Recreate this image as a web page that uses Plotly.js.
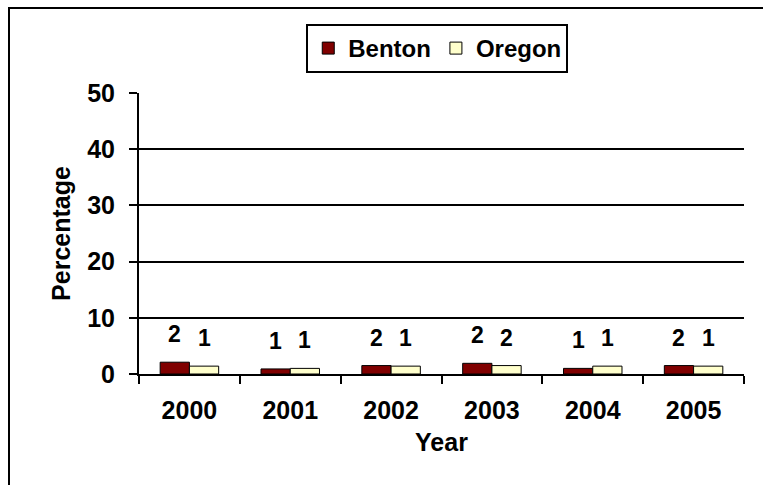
<!DOCTYPE html>
<html>
<head>
<meta charset="utf-8">
<script src="https://cdn.plot.ly/plotly-3.0.1.min.js"></script>
<style>
  html, body { margin: 0; padding: 0; background: #fff; }
  #chart { width: 763px; height: 485px; }
</style>
</head>
<body>
<div id="chart"></div>
<script>
const years = ['2000', '2001', '2002', '2003', '2004', '2005'];
const benton = [2.1, 0.9, 1.5, 1.9, 1.0, 1.5];
const oregon = [1.4, 1.0, 1.4, 1.5, 1.4, 1.4];
const yTicks = [0, 10, 20, 30, 40, 50];

const FONT = '"Liberation Sans", Arial, sans-serif';

const traces = [
  {
    type: 'bar', name: 'Benton', x: years, y: benton,
    marker: { color: '#800000', line: { color: '#000000', width: 1 } }
  },
  {
    type: 'bar', name: 'Oregon', x: years, y: oregon,
    marker: { color: '#FFFFCC', line: { color: '#000000', width: 1 } }
  }
];

const L = 139, R = 19, T = 93, B = 111;
const W = 763, H = 485;
const plotW = W - L - R, plotH = H - T - B;
const catW = plotW / years.length;
const bargap = 0.42;
const barW = catW * (1 - bargap) / 2;

const annotations = [];
[[benton, -barW / 2], [oregon, barW / 2]].forEach(([vals, dx]) => {
  vals.forEach((v, i) => {
    annotations.push({
      x: i, y: v, xref: 'x', yref: 'y',
      text: String(Math.round(v)), showarrow: false,
      xshift: dx, yshift: 13, yanchor: 'bottom',
      font: { family: FONT, size: 23, color: '#000' }
    });
  });
});

const px2x = p => (p - L) / plotW;
const py2y = p => (H - B - p) / plotH;

const layout = {
  width: W, height: H,
  margin: { l: L, r: R, t: T, b: B, pad: 0 },
  paper_bgcolor: '#ffffff', plot_bgcolor: '#ffffff',
  font: { family: FONT, size: 25, color: '#000', weight: 'bold' },
  barmode: 'group', bargap: bargap, bargroupgap: 0,
  showlegend: true,
  legend: {
    orientation: 'h', x: 0.493, xanchor: 'center', y: py2y(24), yanchor: 'top',
    bordercolor: '#000', borderwidth: 2, bgcolor: '#fff',
    font: { family: FONT, size: 24, color: '#000' },
    traceorder: 'normal'
  },
  xaxis: {
    type: 'category', tickson: 'boundaries', ticks: 'outside', ticklen: 8,
    tickwidth: 2, tickcolor: '#000', showline: true, linecolor: '#000', linewidth: 2,
    showgrid: false, fixedrange: true, tickangle: 0,
    tickfont: { family: FONT, size: 25, color: '#000' },
    ticklabelstandoff: 13,
    title: { text: 'Year', font: { family: FONT, size: 25, color: '#000' }, standoff: 10 }
  },
  yaxis: {
    range: [0, 50], tickvals: yTicks, ticktext: yTicks.map(String),
    ticks: 'outside', ticklen: 8, tickwidth: 2, tickcolor: '#000',
    showline: true, linecolor: '#000', linewidth: 2,
    showgrid: true, gridcolor: '#000', gridwidth: 2, zeroline: false,
    fixedrange: true,
    tickfont: { family: FONT, size: 25, color: '#000' },
    ticklabelstandoff: 9,
    title: { text: 'Percentage', font: { family: FONT, size: 25, color: '#000' }, standoff: 9 }
  },
  annotations: annotations,
  shapes: [
    { type: 'line', xref: 'paper', yref: 'paper', x0: px2x(9), x1: px2x(9), y0: py2y(H + 5), y1: py2y(8),
      line: { color: '#000', width: 2 } },
    { type: 'line', xref: 'paper', yref: 'paper', x0: px2x(8), x1: px2x(W + 5), y0: py2y(8), y1: py2y(8),
      line: { color: '#000', width: 2 } }
  ]
};

Plotly.newPlot('chart', traces, layout, { displayModeBar: false, staticPlot: true });
</script>
</body>
</html>
